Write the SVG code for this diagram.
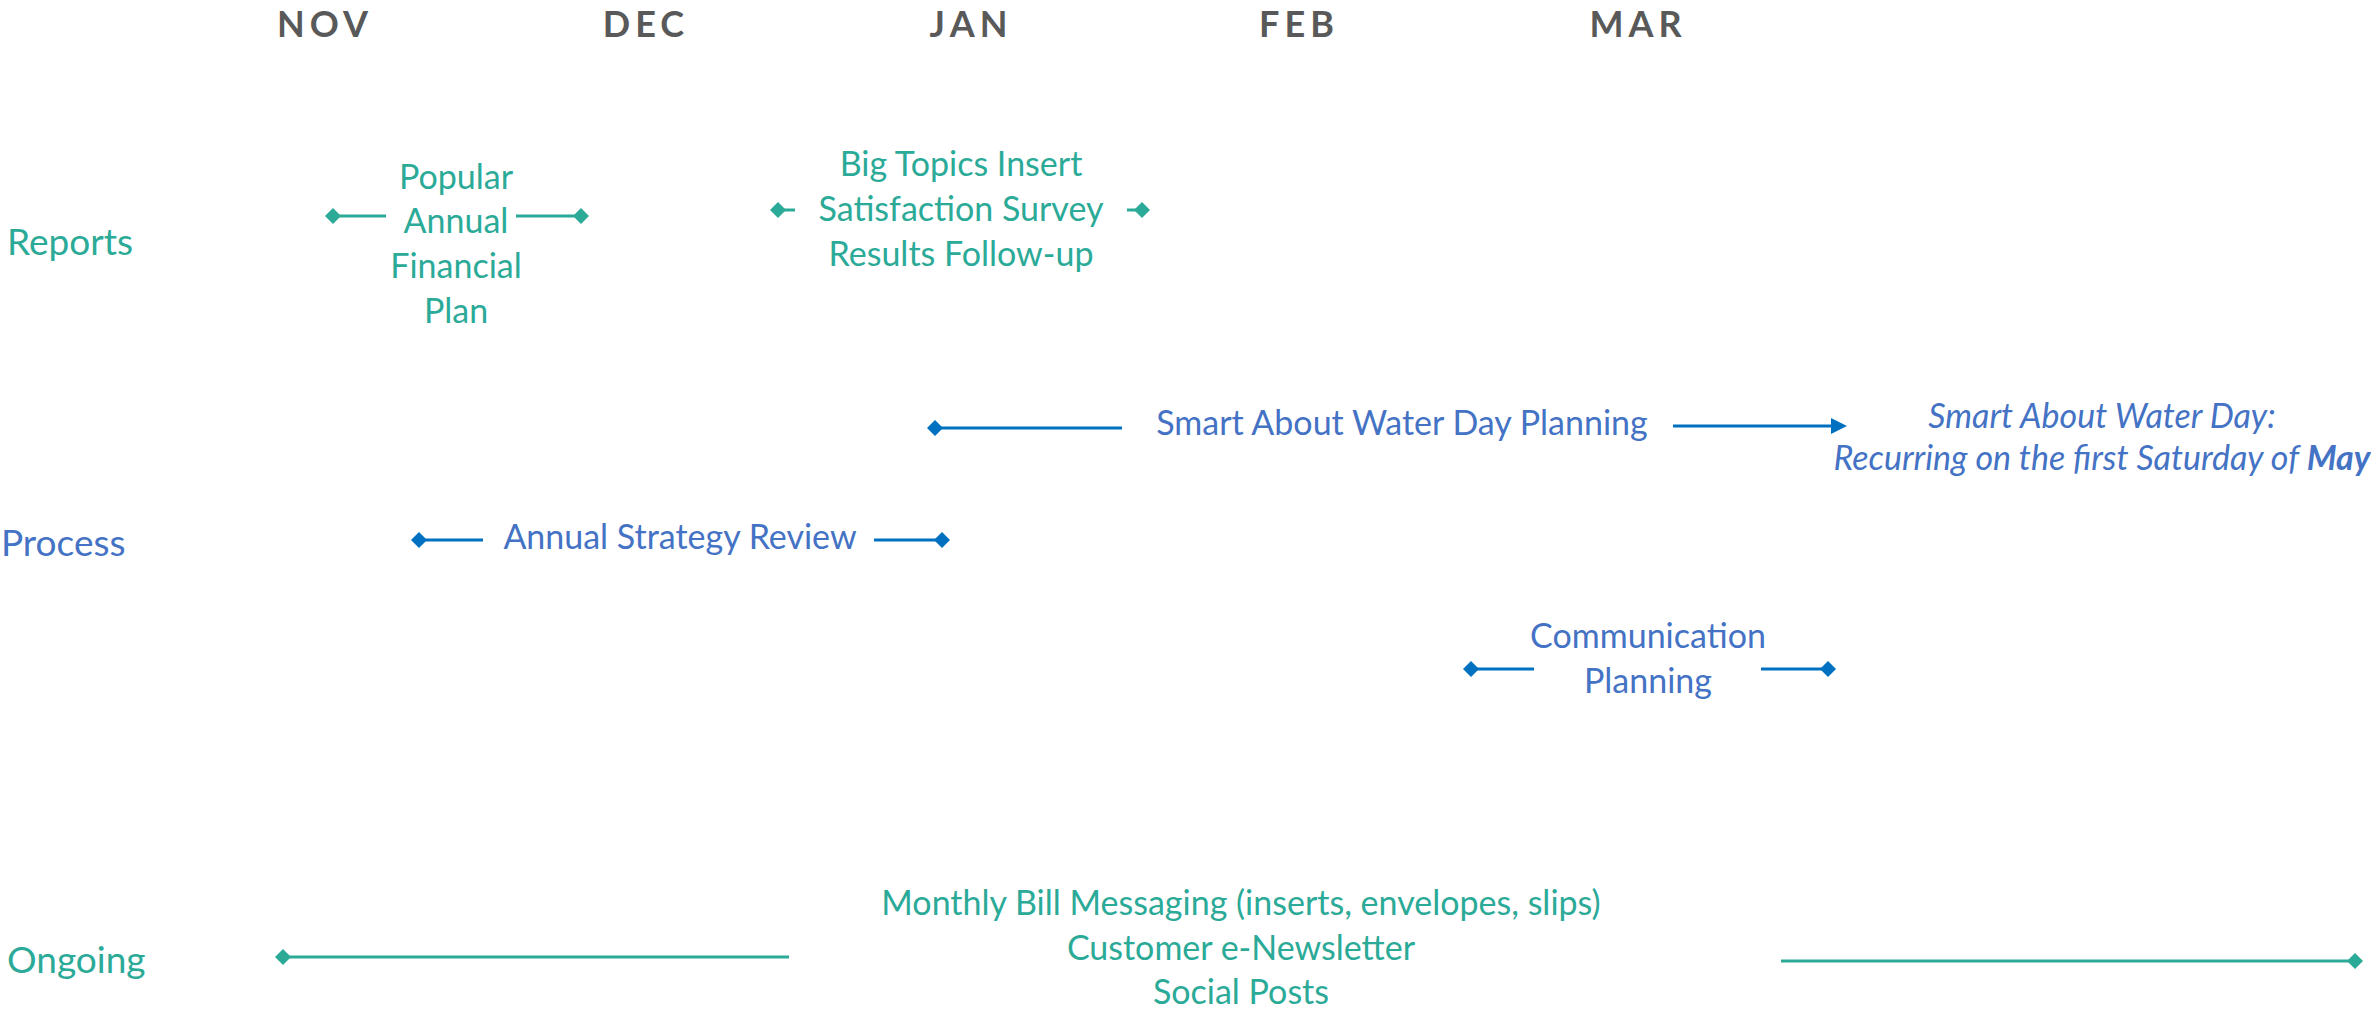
<svg xmlns="http://www.w3.org/2000/svg" width="2371" height="1010" viewBox="0 0 2371 1010">
<style>
text{font-family:Lato,"Open Sans","Liberation Sans",sans-serif;font-size:34px}
.teal{fill:#2BAA98}
.blue{fill:#4472C4}
.row{font-size:37px}
.mon{font-weight:bold;fill:#595959;font-size:36px;letter-spacing:5px;text-anchor:middle}
.c{text-anchor:middle}
.lt{stroke:#2BAA98;stroke-width:3;fill:none}
.lb{stroke:#0070C0;stroke-width:3;fill:none}
</style>
<defs>
<marker id="dt" markerUnits="userSpaceOnUse" markerWidth="16" markerHeight="16" refX="8" refY="8" orient="auto"><path d="M8,0 L16,8 L8,16 L0,8 Z" fill="#2BAA98"/></marker>
<marker id="db" markerUnits="userSpaceOnUse" markerWidth="16" markerHeight="16" refX="8" refY="8" orient="auto"><path d="M8,0 L16,8 L8,16 L0,8 Z" fill="#0070C0"/></marker>
<marker id="ab" markerUnits="userSpaceOnUse" markerWidth="16" markerHeight="16" refX="4" refY="8" orient="auto"><path d="M0,0 L16,8 L0,16 Z" fill="#0070C0"/></marker>
</defs>
<g id="months">
<text class="mon" x="325" y="37">NOV</text>
<text class="mon" x="646" y="37">DEC</text>
<text class="mon" x="971" y="37">JAN</text>
<text class="mon" x="1299" y="37">FEB</text>
<text class="mon" x="1638" y="37">MAR</text>
</g>
<g id="row-reports"><text class="teal row" x="7" y="255">Reports</text></g>
<g id="row-process"><text class="blue row" x="1" y="556">Process</text></g>
<g id="row-ongoing"><text class="teal row" x="7" y="973">Ongoing</text></g>
<g id="popular-annual-financial-plan"><text class="teal c" x="456"><tspan x="456" y="189">Popular</tspan><tspan x="456" y="233">Annual</tspan><tspan x="456" y="278">Financial</tspan><tspan x="456" y="323">Plan</tspan></text></g>
<g id="big-topics"><text class="teal c" x="961"><tspan x="961" y="176">Big Topics Insert</tspan><tspan x="961" y="221">Satisfaction Survey</tspan><tspan x="961" y="266">Results Follow-up</tspan></text></g>
<g id="smart-water-planning"><text class="blue c" x="1402" y="435">Smart About Water Day Planning</text></g>
<g id="smart-water-day"><text class="blue c" font-style="italic"><tspan x="2102" y="428">Smart About Water Day:</tspan><tspan x="2102" y="470">Recurring on the first Saturday of <tspan font-weight="bold">May</tspan></tspan></text></g>
<g id="annual-strategy-review"><text class="blue c" x="680" y="549">Annual Strategy Review</text></g>
<g id="communication-planning"><text class="blue c"><tspan x="1648" y="648">Communication</tspan><tspan x="1648" y="693">Planning</tspan></text></g>
<g id="ongoing-items"><text class="teal c"><tspan x="1241" y="915">Monthly Bill Messaging (inserts, envelopes, slips)</tspan><tspan x="1241" y="960">Customer e-Newsletter</tspan><tspan x="1241" y="1004">Social Posts</tspan></text></g>
<g id="connectors">
<line class="lt" x1="386" y1="216" x2="333" y2="216" marker-end="url(#dt)"/>
<line class="lt" x1="516" y1="216" x2="581" y2="216" marker-end="url(#dt)"/>
<line class="lt" x1="795" y1="210" x2="778" y2="210" marker-end="url(#dt)"/>
<line class="lt" x1="1127" y1="210" x2="1142" y2="210" marker-end="url(#dt)"/>
<line class="lb" x1="1122" y1="428" x2="935" y2="428" marker-end="url(#db)"/>
<line class="lb" x1="1673" y1="426" x2="1835" y2="426" marker-end="url(#ab)"/>
<line class="lb" x1="483" y1="540" x2="419" y2="540" marker-end="url(#db)"/>
<line class="lb" x1="874" y1="540" x2="942" y2="540" marker-end="url(#db)"/>
<line class="lb" x1="1534" y1="669" x2="1471" y2="669" marker-end="url(#db)"/>
<line class="lb" x1="1761" y1="669" x2="1828" y2="669" marker-end="url(#db)"/>
<line class="lt" x1="789" y1="957" x2="283" y2="957" marker-end="url(#dt)"/>
<line class="lt" x1="1781" y1="961" x2="2355" y2="961" marker-end="url(#dt)"/>
</g>
</svg>
